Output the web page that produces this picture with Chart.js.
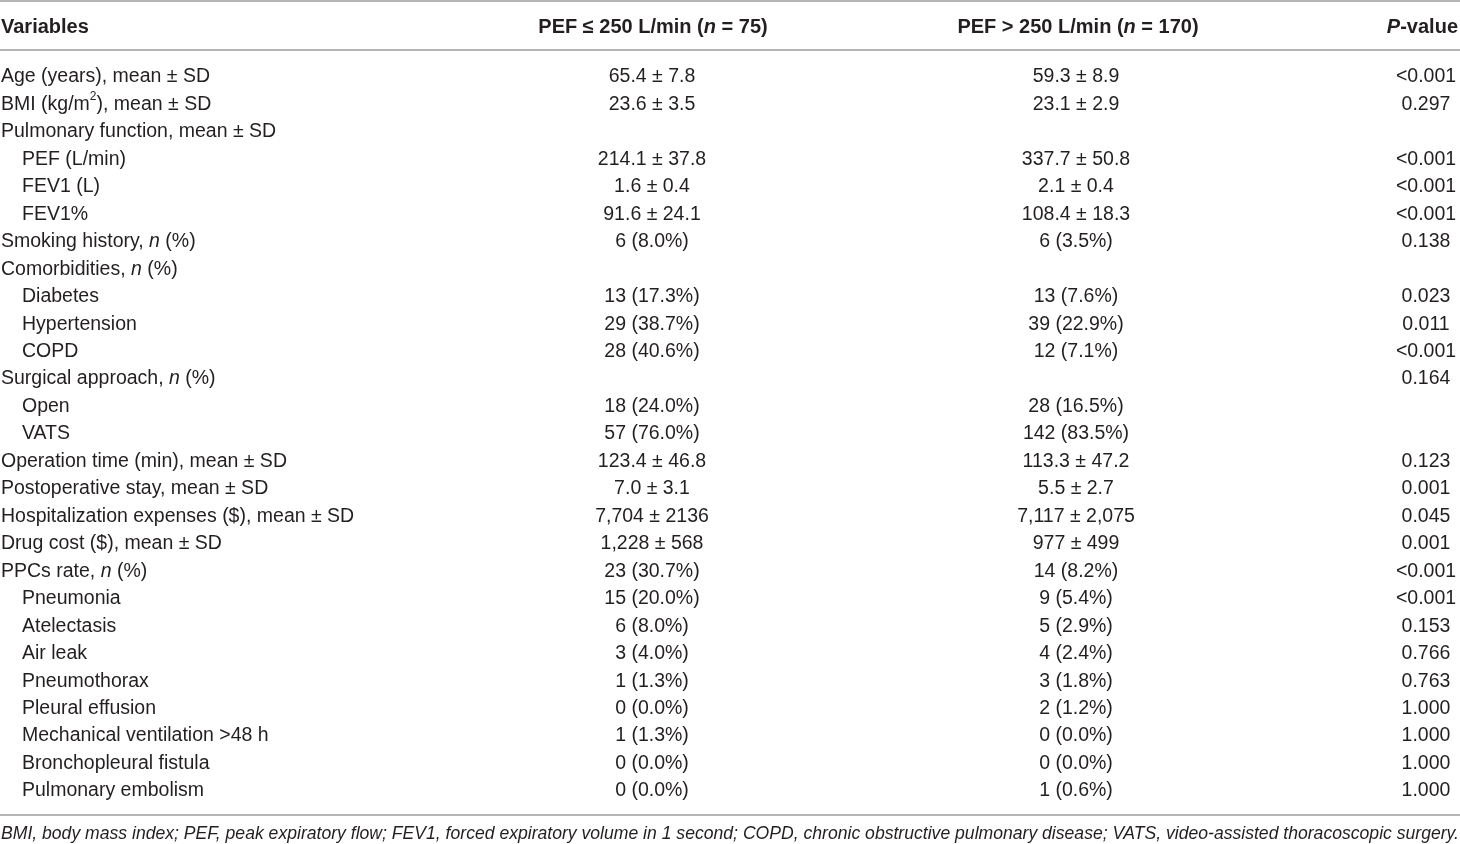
<!DOCTYPE html>
<html>
<head>
<meta charset="utf-8">
<script src="https://cdn.jsdelivr.net/npm/chart.js@4.4.1/dist/chart.umd.min.js"></script>
<style>
html,body{margin:0;padding:0;background:#fff;}
#wrap{width:1460px;height:844px;}
</style>
</head>
<body>
<div id="wrap"><canvas id="c" width="1460" height="844"></canvas></div>
<script>
// ---- data ----
const headers = ["Variables", "PEF \u2264 250 L/min (*n* = 75)", "PEF > 250 L/min (*n* = 170)", "*P*-value"];
const variables = [
  "Age (years), mean \u00b1 SD",
  "BMI (kg/m^2^), mean \u00b1 SD",
  "Pulmonary function, mean \u00b1 SD",
  "PEF (L/min)",
  "FEV1 (L)",
  "FEV1%",
  "Smoking history, *n* (%)",
  "Comorbidities, *n* (%)",
  "Diabetes",
  "Hypertension",
  "COPD",
  "Surgical approach, *n* (%)",
  "Open",
  "VATS",
  "Operation time (min), mean \u00b1 SD",
  "Postoperative stay, mean \u00b1 SD",
  "Hospitalization expenses ($), mean \u00b1 SD",
  "Drug cost ($), mean \u00b1 SD",
  "PPCs rate, *n* (%)",
  "Pneumonia",
  "Atelectasis",
  "Air leak",
  "Pneumothorax",
  "Pleural effusion",
  "Mechanical ventilation >48 h",
  "Bronchopleural fistula",
  "Pulmonary embolism"
];
const rowLevel = [0,0,0,1,1,1,0,0,1,1,1,0,1,1,0,0,0,0,0,1,1,1,1,1,1,1,1];
const lowPEF = [
  "65.4 \u00b1 7.8","23.6 \u00b1 3.5","","214.1 \u00b1 37.8","1.6 \u00b1 0.4","91.6 \u00b1 24.1",
  "6 (8.0%)","","13 (17.3%)","29 (38.7%)","28 (40.6%)","","18 (24.0%)","57 (76.0%)",
  "123.4 \u00b1 46.8","7.0 \u00b1 3.1","7,704 \u00b1 2136","1,228 \u00b1 568","23 (30.7%)",
  "15 (20.0%)","6 (8.0%)","3 (4.0%)","1 (1.3%)","0 (0.0%)","1 (1.3%)","0 (0.0%)","0 (0.0%)"
];
const highPEF = [
  "59.3 \u00b1 8.9","23.1 \u00b1 2.9","","337.7 \u00b1 50.8","2.1 \u00b1 0.4","108.4 \u00b1 18.3",
  "6 (3.5%)","","13 (7.6%)","39 (22.9%)","12 (7.1%)","","28 (16.5%)","142 (83.5%)",
  "113.3 \u00b1 47.2","5.5 \u00b1 2.7","7,117 \u00b1 2,075","977 \u00b1 499","14 (8.2%)",
  "9 (5.4%)","5 (2.9%)","4 (2.4%)","3 (1.8%)","2 (1.2%)","0 (0.0%)","0 (0.0%)","1 (0.6%)"
];
const pValues = [
  "<0.001","0.297","","<0.001","<0.001","<0.001","0.138","","0.023","0.011","<0.001","0.164","","",
  "0.123","0.001","0.045","0.001","<0.001","<0.001","0.153","0.766","0.763","1.000","1.000","1.000","1.000"
];
const footnote = "*BMI, body mass index; PEF, peak expiratory flow; FEV1, forced expiratory volume in 1 second; COPD, chronic obstructive pulmonary disease; VATS, video-assisted thoracoscopic surgery.*";

// ---- layout (not data) ----
const FONT = '"Liberation Sans", Arial, sans-serif';
const FS = 19.5;
const HFS = 20;
const NFS = 17.6;
const TEXT = '#231f20';
const RULE = '#9b9b9b';
const COLS = [
  {x: 1, align: 'left'},
  {x: 652, align: 'center'},
  {x: 1076, align: 'center'},
  {x: 1426, align: 'center'}
];
const HEAD_X = [1, 653, 1078, 1458];
const HEAD_ALIGN = ['left','center','center','right'];
const INDENT = 21;

function parseRich(s){
  const segs = [];
  let italic = false, sup = false, buf = '';
  for (let i = 0; i < s.length; i++){
    const ch = s[i];
    if (ch === '*' || ch === '^'){
      if (buf) segs.push({t: buf, i: italic, s: sup});
      buf = '';
      if (ch === '*') italic = !italic; else sup = !sup;
    } else buf += ch;
  }
  if (buf) segs.push({t: buf, i: italic, s: sup});
  return segs;
}
function fontFor(seg, bold, size){
  const sz = seg.s ? Math.round(size * 0.62) : size;
  return (seg.i ? 'italic ' : '') + (bold ? 'bold ' : '') + sz + 'px ' + FONT;
}
function drawRich(ctx, str, x, y, align, bold, size){
  const segs = parseRich(str);
  let w = 0;
  segs.forEach(sg => { ctx.font = fontFor(sg, bold, size); sg.w = ctx.measureText(sg.t).width; w += sg.w; });
  let cx = align === 'left' ? x : align === 'right' ? x - w : x - w / 2;
  ctx.textAlign = 'left';
  ctx.textBaseline = 'middle';
  segs.forEach(sg => {
    ctx.font = fontFor(sg, bold, size);
    ctx.fillText(sg.t, cx, sg.s ? y - size * 0.38 : y);
    cx += sg.w;
  });
}

const columns = [variables, lowPEF, highPEF, pValues];

const tablePlugin = {
  id: 'tableText',
  afterDatasetsDraw(chart){
    const ctx = chart.ctx;
    const area = chart.chartArea;
    ctx.save();
    ctx.fillStyle = TEXT;
    chart.data.datasets.forEach((ds, di) => {
      const meta = chart.getDatasetMeta(di);
      meta.data.forEach((el, ri) => {
        const txt = columns[di][ri];
        if (!txt) return;
        let x = el.x;
        if (di === 0 && rowLevel[ri] === 1) x += INDENT;
        drawRich(ctx, txt, x, el.y + 1, COLS[di].align, false, FS);
      });
    });
    const hy = area.top - 49;
    headers.forEach((h, i) => drawRich(ctx, h, HEAD_X[i], hy, HEAD_ALIGN[i], true, HFS));
    ctx.strokeStyle = RULE;
    ctx.lineWidth = 1.6;
    [area.top - 75, area.top - 26, area.bottom + 25].forEach(yy => {
      ctx.beginPath(); ctx.moveTo(0, yy); ctx.lineTo(1460, yy); ctx.stroke();
    });
    ctx.fillStyle = TEXT;
    drawRich(ctx, footnote, 1, area.bottom + 44, 'left', false, NFS);
    ctx.restore();
  }
};

const datasets = columns.map((col, ci) => ({
  label: ci === 0 ? 'Variables' : headers[ci].replace(/\*/g, ''),
  data: col.map((_, ri) => ({x: COLS[ci].x, y: ri})),
  pointRadius: 0,
  pointHoverRadius: 0,
  showLine: false
}));

new Chart(document.getElementById('c'), {
  type: 'scatter',
  data: {datasets},
  plugins: [tablePlugin],
  options: {
    responsive: false,
    animation: false,
    devicePixelRatio: 1,
    layout: {autoPadding: false, padding: {top: 76, bottom: 54, left: 0, right: 0}},
    plugins: {legend: {display: false}, tooltip: {enabled: false}},
    events: [],
    scales: {
      x: {type: 'linear', min: 0, max: 1460, display: false},
      y: {type: 'linear', min: 0, max: variables.length - 1, reverse: true, display: false}
    }
  }
});
</script>
</body>
</html>
